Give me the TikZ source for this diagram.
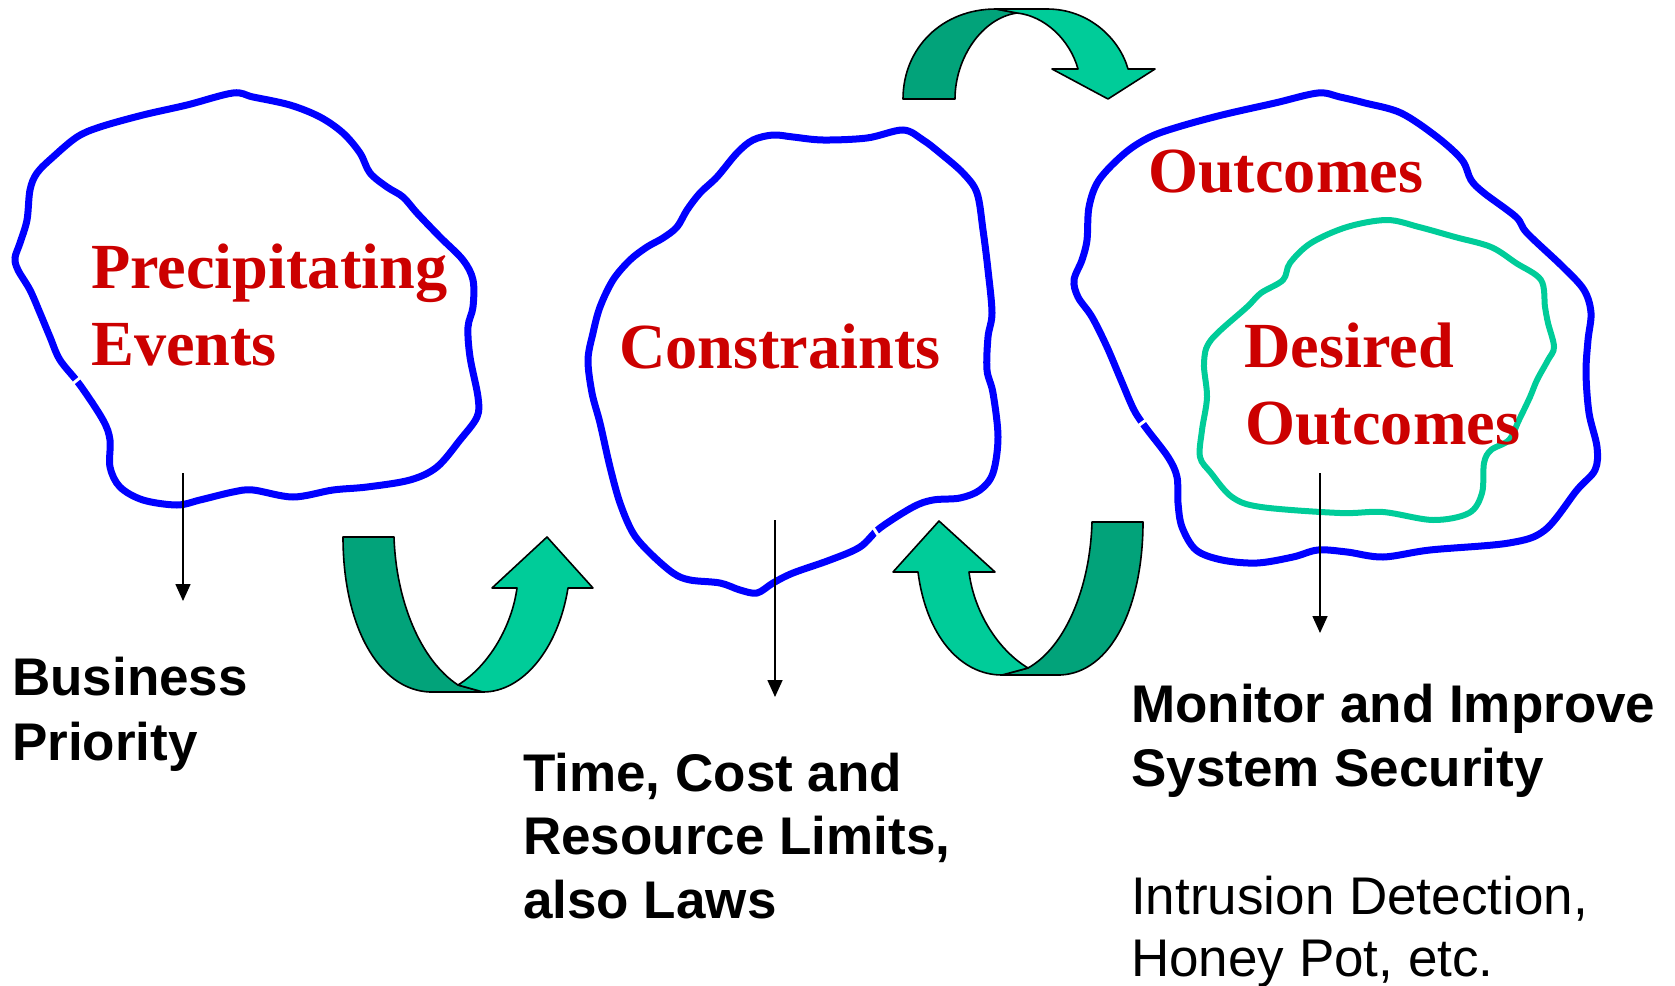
\documentclass[tikz,border=0pt]{standalone}
\usepackage{fontspec}
\setmainfont{Liberation Serif}
\newfontfamily\arialfont{Liberation Sans}
\usetikzlibrary{arrows.meta}
\definecolor{blobblue}{RGB}{0,0,255}
\definecolor{lightgr}{RGB}{0,204,153}
\definecolor{darkgr}{RGB}{2,163,122}
\definecolor{redtxt}{RGB}{204,0,0}
\begin{document}
\begin{tikzpicture}[x=1pt,y=-1pt,
  blob/.style={draw=blobblue, line width=7pt},
  inblob/.style={draw=lightgr, line width=6pt},
  redlbl/.style={anchor=base west, inner sep=0pt, text=redtxt, font=\bfseries\fontsize{64.3}{77}\selectfont},
  blklbl/.style={anchor=base west, inner sep=0pt, font=\arialfont\bfseries\fontsize{53}{64}\selectfont},
  plainlbl/.style={anchor=base west, inner sep=0pt, font=\arialfont\fontsize{53}{64}\selectfont},
  darkband/.style={fill=darkgr, draw=black, line width=1.6pt, line join=round},
  lightband/.style={fill=lightgr, draw=black, line width=1.6pt, line join=round},
  thinarrow/.style={draw=black, line width=1.6pt, -{Triangle[width=15pt,length=17pt]}},
  gapcut/.style={draw=white, line width=3pt}
]
\useasboundingbox (0,0) rectangle (1675,985);

% ---------- blob 1: Precipitating Events
\draw[blob] plot[smooth cycle, tension=0.55] coordinates {
 (233,93) (253,97) (290,105) (320,117) (343,133) (360,153) (370,173) (387,187)
 (403,197) (417,213) (440,237) (463,260) (473,280) (473,307) (468,327) (470,357)
 (478,397) (477,417) (460,440) (437,467) (410,480) (367,487) (333,490) (293,497)
 (253,490) (233,492) (200,500) (177,505) (143,500) (120,487) (110,467) (110,440)
 (103,420) (80,385) (60,360) (50,337) (40,313) (30,290) (18,270) (15,258)
 (20,243) (27,220) (30,190) (37,173) (53,157) (77,137) (100,127) (143,115) (187,105)};
\draw[gapcut] (70.6,385.4) -- (81.4,376.6);

% ---------- blob 2: Constraints
\draw[blob] plot[smooth cycle, tension=0.55] coordinates {
 (903,130) (867,138) (823,140) (793,137) (773,135) (753,140) (737,153) (717,177)
 (700,193) (687,210) (677,227) (663,238) (647,247) (630,260) (613,280) (600,307)
 (593,333) (588,360) (592,393) (600,423) (610,467) (620,503) (633,533) (650,553)
 (673,573) (690,580) (720,583) (740,590) (757,593) (773,583) (793,573) (830,560)
 (860,547) (880,528) (913,507) (933,500) (960,498) (980,490) (993,473) (998,437)
 (993,393) (987,370) (988,337) (992,313) (988,270) (983,230) (977,193) (963,173)
 (940,153) (923,140)};
\draw[gapcut] (872.2,526.1) -- (879.8,537.9);

% ---------- blob 3: Outcomes
\draw[blob] plot[smooth cycle, tension=0.55] coordinates {
 (1318,93) (1275,103) (1222,115) (1178,127) (1150,137) (1125,153) (1099,180)
 (1089,207) (1087,240) (1082,260) (1074,280) (1078,297) (1092,317) (1107,347)
 (1121,380) (1134,410) (1146,428) (1168,457) (1177,477) (1178,503) (1182,527)
 (1196,550) (1222,560) (1257,563) (1293,557) (1318,550) (1347,552) (1383,557)
 (1430,550) (1509,543) (1545,530) (1577,490) (1595,470) (1597,447) (1589,413)
 (1586,373) (1588,340) (1591,313) (1584,290) (1563,267) (1527,233) (1516,217)
 (1484,193) (1471,180) (1462,160) (1437,137) (1401,113) (1365,103) (1340,97)};
\draw[gapcut] (1136.4,427.2) -- (1147.6,418.8);

% ---------- inner green blob: Desired Outcomes
\draw[inblob] plot[smooth cycle, tension=0.55] coordinates {
 (1387,220) (1419,227) (1455,237) (1491,247) (1516,263) (1541,280) (1545,307)
 (1548,323) (1554,347) (1548,360) (1537,380) (1530,397) (1519,420) (1509,440)
 (1491,450) (1484,463) (1482,493) (1469,513) (1433,520) (1383,512) (1340,513)
 (1261,507) (1232,497) (1211,473) (1200,457) (1202,430) (1207,397) (1204,363)
 (1211,340) (1247,307) (1261,293) (1283,280) (1290,263) (1311,243) (1347,227)};

% ---------- curved ribbon arrows
% top
\filldraw[darkband] (903,99) .. controls (903,48) and (942,9) .. (996,9)
  -- (1017,13) .. controls (982,18) and (955,58) .. (955,99) -- cycle;
\filldraw[lightband] (996,9) -- (1047,9) .. controls (1090,9) and (1120,40) .. (1128,69)
  -- (1155,69) -- (1108,99) -- (1052,69) -- (1078,69)
  .. controls (1070,40) and (1045,16) .. (1017,13) -- cycle;
% bottom left
\filldraw[darkband] (343,537) -- (394,537) .. controls (396,600) and (420,660) .. (458,685)
  -- (483,692) -- (430,692) .. controls (378,690) and (343,625) .. (343,537) -- cycle;
\filldraw[lightband] (458,685) .. controls (490,665) and (512,625) .. (517,588)
  -- (492,588) -- (547,537) -- (593,588) -- (568,588)
  .. controls (558,650) and (522,692) .. (483,692) -- cycle;
% bottom right
\filldraw[darkband] (1143,522) -- (1092,522) .. controls (1090,590) and (1064,648) .. (1028,668)
  -- (1002,675) -- (1060,675) .. controls (1112,673) and (1143,605) .. (1143,522) -- cycle;
\filldraw[lightband] (1028,668) .. controls (998,650) and (974,612) .. (969,572)
  -- (995,572) -- (939,521) -- (893,572) -- (918,572)
  .. controls (926,635) and (960,675) .. (1002,675) -- cycle;

% ---------- red labels
\node[redlbl] (prec) at (91,288) {Precipitating};
\node[redlbl] (evts) at (91,365) {Events};
\node[redlbl] (cons) at (619,368) {Constraints};
\node[redlbl] (outc) at (1148,192) {Outcomes};
\node[redlbl] (desi) at (1244,367) {Desired};
\node[redlbl] (dout) at (1245,444) {Outcomes};

% ---------- thin arrows
\coordinate (a1s) at (183,473); \coordinate (a1e) at (183,601);
\coordinate (a2s) at (775,520); \coordinate (a2e) at (775,697);
\coordinate (a3s) at (1320,473); \coordinate (a3e) at (1320,633);
\draw[thinarrow] (a1s) -- (a1e);
\draw[thinarrow] (a2s) -- (a2e);
\draw[thinarrow] (a3s) -- (a3e);

% ---------- black labels
\node[blklbl] (bus1) at (12,695) {Business};
\node[blklbl] (bus2) at (12,760) {Priority};
\node[blklbl] (tcl1) at (523,791) {Time, Cost and};
\node[blklbl] (tcl2) at (523,854) {Resource Limits,};
\node[blklbl] (tcl3) at (523,918) {also Laws};
\node[blklbl] (mon1) at (1131,722) {Monitor and Improve};
\node[blklbl] (mon2) at (1131,786) {System Security};
\node[plainlbl] (int1) at (1131,914) {Intrusion Detection,};
\node[plainlbl] (int2) at (1131,976) {Honey Pot, etc.};
\end{tikzpicture}
\end{document}
